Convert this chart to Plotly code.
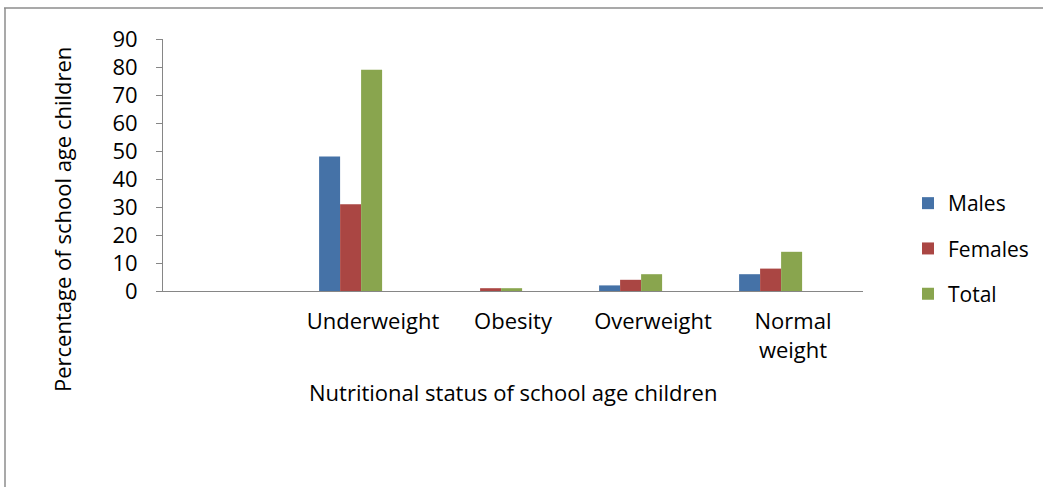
import plotly.graph_objects as go

categories = ["", "Underweight", "Obesity", "Overweight", "Normal weight"]
tick_labels = ["", "Underweight", "Obesity", "Overweight", "Normal<br>weight"]
males = [None, 48, 0, 2, 6]
females = [None, 31, 1, 4, 8]
total = [None, 79, 1, 6, 14]
y_ticks = [0, 10, 20, 30, 40, 50, 60, 70, 80, 90]

FONT = "Open Sans"
FS = 22
L, R, T, B = 163, 863, 39, 291
W, H = 1043, 487

def px_x(p):
    return (p - L) / (R - L)

def px_y(p):
    return (B - p) / (B - T)

xs = list(range(len(categories)))
fig = go.Figure()
series = [("Males", males, "#4572A7", -0.385),
          ("Females", females, "#AA4643", -0.235),
          ("Total", total, "#89A54E", -0.085)]
for name, vals, col, off in series:
    fig.add_trace(go.Bar(x=xs, y=vals, name=name, marker=dict(color=col, line=dict(width=0)),
                         width=0.15, offset=off, legendgroup=name))

fig.update_layout(
    width=W, height=H,
    margin=dict(l=L, r=W - R, t=T, b=H - B, autoexpand=False),
    paper_bgcolor="white", plot_bgcolor="white",
    barmode="overlay",
    font=dict(family=FONT, size=FS, color="black"),
    showlegend=True,
    legend=dict(x=px_x(908), y=px_y(183), xanchor="left", yanchor="top",
                tracegroupgap=15, font=dict(size=21), bgcolor="rgba(0,0,0,0)"),
    xaxis=dict(range=[-0.5, 4.5], tickvals=xs, ticktext=tick_labels, showgrid=False,
               showline=True, linecolor="#868686", linewidth=1, ticks="",
               ticklabelstandoff=11, zeroline=False, automargin=False),
    yaxis=dict(range=[0, 90], tickvals=y_ticks, showgrid=False, showline=True,
               linecolor="#868686", linewidth=1, ticks="outside", ticklen=6,
               tickcolor="#868686", ticklabelstandoff=14, zeroline=False, automargin=False),
    annotations=[
        dict(text="Percentage of school age children", textangle=-90, xref="paper", yref="paper",
             x=px_x(62), y=px_y(220), xanchor="center", yanchor="middle", showarrow=False,
             font=dict(size=FS)),
        dict(text="Nutritional status of school age children", xref="paper", yref="paper",
             x=px_x(513), y=px_y(392), xanchor="center", yanchor="middle", showarrow=False,
             font=dict(size=FS)),
    ],
    shapes=[
        dict(type="line", xref="paper", yref="paper", x0=px_x(4), x1=px_x(W), y0=px_y(8), y1=px_y(8),
             line=dict(color="#8c8c8c", width=1.5)),
        dict(type="line", xref="paper", yref="paper", x0=px_x(5), x1=px_x(5), y0=px_y(8), y1=px_y(H),
             line=dict(color="#8c8c8c", width=1.5)),
    ],
)
fig.write_html("out.html")
